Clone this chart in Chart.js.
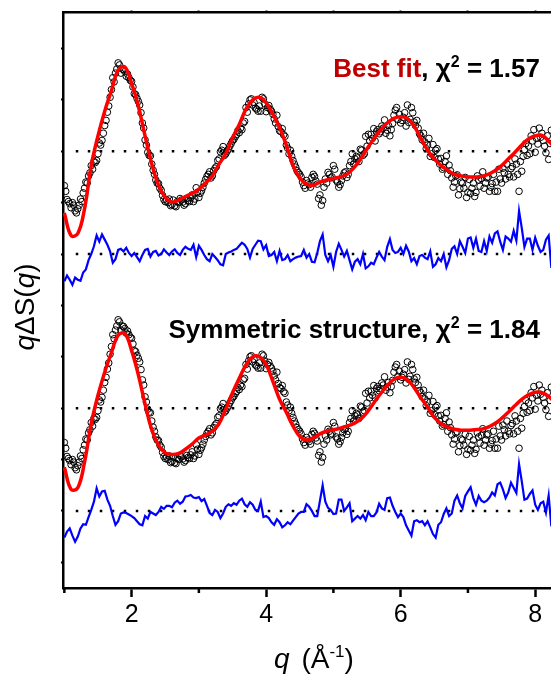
<!DOCTYPE html>
<html>
<head>
<meta charset="utf-8">
<script src="https://cdn.jsdelivr.net/npm/chart.js@4.4.1/dist/chart.umd.min.js"></script>
<style>
  html, body { margin: 0; padding: 0; background: #fff; overflow: hidden; }
  canvas { display: block; }
</style>
</head>
<body>
<canvas id="chart" width="551" height="675"></canvas>
<script>
// q grid of the measured curve (1/Angstrom)
const qData = [
  1.00,1.04,1.08,1.12,1.16,1.20,1.24,1.28,1.32,1.36,
  1.40,1.44,1.48,1.52,1.56,1.60,1.64,1.68,1.72,1.76,
  1.80,1.84,1.88,1.92,1.96,2.00,2.04,2.08,2.12,2.16,
  2.20,2.24,2.28,2.32,2.36,2.40,2.44,2.48,2.52,2.56,
  2.60,2.64,2.68,2.72,2.76,2.80,2.84,2.88,2.92,2.96,
  3.00,3.04,3.08,3.12,3.16,3.20,3.24,3.28,3.32,3.36,
  3.40,3.44,3.48,3.52,3.56,3.60,3.64,3.68,3.72,3.76,
  3.80,3.84,3.88,3.92,3.96,4.00,4.04,4.08,4.12,4.16,
  4.20,4.24,4.28,4.32,4.36,4.40,4.44,4.48,4.52,4.56,
  4.60,4.64,4.68,4.72,4.76,4.80,4.84,4.88,4.92,4.96,
  5.00,5.04,5.08,5.12,5.16,5.20,5.24,5.28,5.32,5.36,
  5.40,5.44,5.48,5.52,5.56,5.60,5.64,5.68,5.72,5.76,
  5.80,5.84,5.88,5.92,5.96,6.00,6.04,6.08,6.12,6.16,
  6.20,6.24,6.28,6.32,6.36,6.40,6.44,6.48,6.52,6.56,
  6.60,6.64,6.68,6.72,6.76,6.80,6.84,6.88,6.92,6.96,
  7.00,7.04,7.08,7.12,7.16,7.20,7.24,7.28,7.32,7.36,
  7.40,7.44,7.48,7.52,7.56,7.60,7.64,7.68,7.72,7.76,
  7.80,7.84,7.88,7.92,7.96,8.00,8.04,8.08,8.12,8.16,
  8.20,8.24
];

// measured q*dS(q), relative to its own baseline
const measured = [
  -0.67,-0.94,-1.02,-1.00,-1.16,-1.12,-0.93,-0.81,-0.60,-0.48,
  -0.28,-0.20,-0.18,0.16,0.21,0.50,0.76,1.05,1.43,1.52,
  1.72,1.52,1.59,1.46,1.43,1.36,1.12,1.03,0.90,0.55,
  0.22,-0.02,-0.09,-0.37,-0.56,-0.63,-0.76,-0.94,-0.95,-0.93,
  -1.04,-1.06,-0.98,-0.92,-0.99,-1.02,-0.96,-0.91,-0.98,-0.71,
  -0.90,-0.77,-0.62,-0.49,-0.40,-0.48,-0.33,-0.18,-0.01,0.09,
  -0.05,0.04,0.15,0.23,0.32,0.36,0.42,0.58,0.76,1.00,
  0.90,0.84,0.78,0.78,1.02,0.77,0.89,0.78,0.63,0.70,
  0.40,0.44,0.29,0.06,0.02,-0.18,-0.31,-0.42,-0.50,-0.67,
  -0.57,-0.65,-0.51,-0.49,-0.64,-0.85,-0.96,-0.54,-0.41,-0.52,
  -0.28,-0.56,-0.70,-0.57,-0.42,-0.51,-0.28,-0.05,-0.15,-0.13,
  0.04,-0.08,0.29,0.33,0.33,0.44,0.38,0.34,0.49,0.61,
  0.41,0.30,0.54,0.80,0.62,0.55,0.66,0.49,0.56,0.85,
  0.57,0.60,0.34,0.22,0.18,0.12,-0.10,0.13,0.02,-0.15,
  -0.14,-0.32,-0.09,-0.27,-0.52,-0.60,-0.46,-0.73,-0.62,-0.51,
  -0.80,-0.82,-0.62,-0.80,-0.56,-0.53,-0.72,-0.52,-0.78,-0.63,
  -0.78,-0.78,-0.54,-0.33,-0.54,-0.45,-0.34,-0.50,-0.25,-0.78,
  -0.39,0.03,-0.08,-0.05,0.20,-0.02,0.14,0.27,0.21,-0.03,
  -0.16,0.41
];

// the in-between measured points (q = 1.02 ... 8.22)
const qDataMid = [
  1.02,1.06,1.10,1.14,1.18,1.22,1.26,1.30,1.34,1.38,
  1.42,1.46,1.50,1.54,1.58,1.62,1.66,1.70,1.74,1.78,
  1.82,1.86,1.90,1.94,1.98,2.02,2.06,2.10,2.14,2.18,
  2.22,2.26,2.30,2.34,2.38,2.42,2.46,2.50,2.54,2.58,
  2.62,2.66,2.70,2.74,2.78,2.82,2.86,2.90,2.94,2.98,
  3.02,3.06,3.10,3.14,3.18,3.22,3.26,3.30,3.34,3.38,
  3.42,3.46,3.50,3.54,3.58,3.62,3.66,3.70,3.74,3.78,
  3.82,3.86,3.90,3.94,3.98,4.02,4.06,4.10,4.14,4.18,
  4.22,4.26,4.30,4.34,4.38,4.42,4.46,4.50,4.54,4.58,
  4.62,4.66,4.70,4.74,4.78,4.82,4.86,4.90,4.94,4.98,
  5.02,5.06,5.10,5.14,5.18,5.22,5.26,5.30,5.34,5.38,
  5.42,5.46,5.50,5.54,5.58,5.62,5.66,5.70,5.74,5.78,
  5.82,5.86,5.90,5.94,5.98,6.02,6.06,6.10,6.14,6.18,
  6.22,6.26,6.30,6.34,6.38,6.42,6.46,6.50,6.54,6.58,
  6.62,6.66,6.70,6.74,6.78,6.82,6.86,6.90,6.94,6.98,
  7.02,7.06,7.10,7.14,7.18,7.22,7.26,7.30,7.34,7.38,
  7.42,7.46,7.50,7.54,7.58,7.62,7.66,7.70,7.74,7.78,
  7.82,7.86,7.90,7.94,7.98,8.02,8.06,8.10,8.14,8.18,
  8.22
];

const measuredMid = [
  -0.78,-0.98,-1.10,-1.05,-1.20,-1.05,-0.98,-0.72,-0.62,-0.42,
  -0.35,-0.22,-0.05,0.12,0.35,0.60,0.88,1.20,1.35,1.60,
  1.68,1.60,1.55,1.50,1.38,1.25,1.10,0.97,0.75,0.45,
  0.12,-0.08,-0.25,-0.45,-0.62,-0.72,-0.86,-0.98,-1.00,-1.06,
  -0.95,-1.08,-1.00,-0.95,-1.05,-0.92,-0.98,-0.85,-0.93,-0.80,
  -0.82,-0.70,-0.55,-0.45,-0.52,-0.38,-0.30,-0.15,0.02,-0.08,
  0.00,0.10,0.20,0.28,0.40,0.45,0.55,0.85,0.92,1.02,
  0.95,0.82,0.88,1.05,0.92,0.85,0.82,0.72,0.55,0.48,
  0.38,0.32,0.12,-0.05,-0.10,-0.25,-0.38,-0.45,-0.60,-0.72,
  -0.62,-0.70,-0.45,-0.58,-0.92,-1.05,-0.70,-0.62,-0.45,-0.50,
  -0.35,-0.60,-0.65,-0.48,-0.40,-0.45,-0.20,-0.25,-0.10,-0.20,
  0.02,-0.05,0.10,0.20,0.25,0.20,0.42,0.38,0.45,0.35,
  0.50,0.42,0.70,0.85,0.72,0.60,0.75,0.90,0.62,0.75,
  0.50,0.45,0.30,0.35,0.05,0.25,-0.05,-0.12,0.05,-0.25,
  -0.35,-0.20,-0.45,-0.38,-0.70,-0.48,-0.85,-0.60,-0.72,-0.90,
  -0.55,-0.72,-0.88,-0.48,-0.68,-0.40,-0.62,-0.50,-0.70,-0.45,
  -0.60,-0.35,-0.62,-0.42,-0.25,-0.50,-0.30,-0.15,-0.45,-0.20,
  -0.10,0.15,0.10,0.30,0.42,0.25,0.45,0.35,0.10,0.30,
  0.15
];

// residuals (fit - data) for each model
const residualBest = [
  -0.53,-0.42,-0.50,-0.60,-0.46,-0.50,-0.52,-0.36,-0.30,-0.12,
  0.00,0.15,0.36,0.24,0.38,0.28,0.18,0.05,-0.17,-0.10,
  0.08,0.10,0.05,0.12,0.02,-0.04,0.02,-0.06,-0.14,-0.02,
  0.08,0.10,-0.05,0.04,0.06,-0.03,0.00,0.09,0.03,-0.02,
  0.05,0.09,0.02,-0.02,0.08,0.14,0.10,0.08,0.18,-0.06,
  0.16,0.08,-0.02,-0.10,-0.14,0.00,-0.06,-0.12,-0.20,-0.22,
  0.00,0.03,0.05,0.08,0.10,0.16,0.22,0.18,0.10,-0.07,
  0.10,0.18,0.26,0.25,0.09,0.17,-0.04,-0.02,0.04,-0.14,
  0.06,-0.12,-0.10,-0.02,-0.14,-0.10,-0.07,-0.05,-0.04,0.08,
  -0.07,0.00,-0.15,-0.16,0.02,0.25,0.38,-0.02,-0.14,-0.02,
  -0.25,0.04,0.20,0.08,-0.05,0.06,-0.12,-0.30,-0.15,-0.10,
  -0.20,0.00,-0.28,-0.24,-0.17,-0.20,-0.07,0.04,-0.05,-0.12,
  0.14,0.29,0.08,0.02,0.04,0.12,0.00,0.16,0.05,-0.14,
  -0.08,-0.20,-0.04,-0.02,-0.07,-0.10,0.05,-0.25,-0.20,-0.08,
  -0.14,0.00,-0.26,-0.12,0.10,0.15,0.00,0.25,0.14,0.02,
  0.30,0.32,0.12,0.30,0.06,0.04,0.25,0.06,0.34,0.22,
  0.40,0.44,0.24,0.08,0.34,0.30,0.24,0.45,0.26,0.84,
  0.51,0.14,0.30,0.30,0.08,0.32,0.16,0.04,0.08,0.28,
  0.36,-0.27
];

const residualSym = [
  -0.52,-0.40,-0.34,-0.48,-0.60,-0.50,-0.34,-0.26,-0.27,-0.12,
  0.02,0.18,0.44,0.28,0.38,0.39,0.22,0.10,-0.10,-0.27,
  -0.20,-0.05,-0.03,-0.04,-0.07,-0.10,-0.14,-0.20,-0.26,-0.28,
  -0.10,-0.15,-0.02,-0.05,-0.08,-0.02,0.08,0.04,0.10,0.10,
  0.07,0.16,0.20,0.14,0.18,0.28,0.29,0.31,0.26,0.25,
  0.27,0.19,0.23,0.10,-0.04,-0.08,0.02,-0.02,-0.14,-0.05,
  0.08,0.13,0.10,0.15,0.12,0.20,0.24,0.13,0.08,0.17,
  0.12,0.02,0.00,0.18,-0.12,-0.10,-0.14,-0.22,-0.27,-0.16,
  -0.22,-0.32,-0.28,-0.22,-0.26,-0.19,-0.12,-0.05,-0.02,-0.02,
  0.13,0.08,0.00,-0.10,-0.10,0.20,0.50,0.18,0.06,0.02,
  -0.06,-0.05,0.22,0.22,0.00,0.07,0.15,-0.20,-0.15,-0.10,
  -0.15,-0.08,-0.18,-0.02,-0.10,-0.10,-0.03,0.14,0.05,0.02,
  0.25,0.26,0.10,-0.02,-0.12,-0.05,-0.12,-0.28,-0.38,-0.48,
  -0.20,-0.18,-0.22,-0.20,-0.28,-0.20,-0.32,-0.45,-0.52,-0.27,
  -0.22,-0.06,0.05,-0.10,-0.05,0.20,0.30,0.15,0.05,0.29,
  0.38,0.46,0.25,0.12,0.29,0.20,0.17,0.20,0.26,0.36,
  0.30,0.52,0.55,0.42,0.25,0.36,0.55,0.45,0.35,0.91,
  0.58,0.22,0.24,0.33,0.40,0.12,0.02,0.15,0.18,-0.03,
  0.30,-0.30
];

// fitted curves on a coarser q grid
const qFit = [
  1.0,1.1,1.2,1.3,1.4,1.5,1.6,1.7,1.8,1.9,
  2.0,2.1,2.2,2.3,2.4,2.5,2.6,2.7,2.8,2.9,
  3.0,3.1,3.2,3.3,3.4,3.5,3.6,3.7,3.8,3.9,
  4.0,4.1,4.2,4.3,4.4,4.5,4.6,4.7,4.8,4.9,
  5.0,5.1,5.2,5.3,5.4,5.5,5.6,5.7,5.8,5.9,
  6.0,6.1,6.2,6.3,6.4,6.5,6.6,6.7,6.8,6.9,
  7.0,7.1,7.2,7.3,7.4,7.5,7.6,7.7,7.8,7.9,
  8.0,8.1,8.2,8.3
];

const fitBest = [
  -1.20,-1.64,-1.60,-1.12,-0.28,0.30,0.78,1.18,1.58,1.64,
  1.32,0.88,0.30,-0.25,-0.66,-0.90,-0.99,-0.95,-0.88,-0.82,
  -0.74,-0.62,-0.48,-0.25,-0.05,0.26,0.52,0.82,1.00,1.05,
  0.94,0.72,0.46,0.12,-0.28,-0.52,-0.64,-0.66,-0.60,-0.56,
  -0.53,-0.50,-0.45,-0.33,-0.16,0.05,0.24,0.41,0.55,0.64,
  0.67,0.64,0.49,0.25,0.02,-0.15,-0.28,-0.37,-0.45,-0.48,
  -0.50,-0.50,-0.49,-0.45,-0.38,-0.28,-0.15,-0.02,0.12,0.24,
  0.30,0.31,0.20,0.05
];

const fitSym = [
  -1.15,-1.58,-1.55,-1.05,-0.30,0.25,0.70,1.08,1.42,1.45,
  1.12,0.65,0.08,-0.42,-0.72,-0.87,-0.90,-0.88,-0.80,-0.70,
  -0.58,-0.52,-0.45,-0.30,-0.02,0.30,0.58,0.84,1.00,1.00,
  0.85,0.52,0.17,-0.08,-0.35,-0.55,-0.62,-0.58,-0.50,-0.45,
  -0.42,-0.39,-0.35,-0.30,-0.22,-0.08,0.10,0.28,0.44,0.56,
  0.60,0.55,0.40,0.20,0.02,-0.18,-0.30,-0.37,-0.41,-0.43,
  -0.43,-0.42,-0.41,-0.37,-0.30,-0.20,-0.08,0.05,0.17,0.26,
  0.31,0.30,0.23,0.10
];

// baselines of the stacked curves (fit / residual, for each model)
const baseBest = 8, baseBestRes = 6;
const baseSym = 3, baseSymRes = 1;
const dottedFrom = 1.17;

const xMajorTicks = [2, 4, 6, 8];
const xMinorTicks = [1, 3, 5, 7];
const xTopTicks = [2, 3, 4, 5, 6, 7, 8];
const yTicks = [0, 1, 2, 3, 4, 5, 6, 7, 8, 9, 10];

const FONT = "'Liberation Sans', Arial, Helvetica, sans-serif";
const X_MIN = 0.98, X_MAX = 8.235;

function pts(xs, ys, off) {
  return xs.map((x, i) => ({ x: x, y: ys[i] + off }));
}
function flat(y) {
  return [{ x: dottedFrom, y: y }, { x: X_MAX + 0.1, y: y }];
}

// draw a run of text pieces with their own fonts
function drawRich(ctx, parts, x, y, align) {
  let total = 0;
  parts.forEach(p => { ctx.font = p.font; p.w = ctx.measureText(p.text).width + (p.gap || 0); total += p.w; });
  let cx = align === 'right' ? x - total : (align === 'center' ? x - total / 2 : x);
  ctx.textBaseline = 'alphabetic';
  ctx.textAlign = 'left';
  parts.forEach(p => {
    ctx.font = p.font;
    ctx.fillStyle = p.color || '#000';
    ctx.fillText(p.text, cx, y - (p.dy || 0));
    cx += p.w;
  });
}

const decor = {
  id: 'decor',
  afterDraw(chart) {
    const ctx = chart.ctx;
    const xs = chart.scales.x, ys = chart.scales.y;
    const area = chart.chartArea;
    ctx.save();
    // minor ticks on the bottom axis
    ctx.strokeStyle = '#000';
    ctx.lineWidth = 2.5;
    xMinorTicks.forEach(v => {
      const px = xs.getPixelForValue(v);
      ctx.beginPath();
      ctx.moveTo(px, area.bottom);
      ctx.lineTo(px, area.bottom + 5);
      ctx.stroke();
    });

    const b = 'bold 26px ' + FONT, bs = 'bold 16px ' + FONT;
    drawRich(ctx, [
      { text: 'Best fit', font: b, color: '#c00000' },
      { text: ', \u03c7', font: b },
      { text: '2', font: bs, dy: 10 },
      { text: ' = 1.57', font: b }
    ], xs.getPixelForValue(8.07), ys.getPixelForValue(9.45), 'right');
    drawRich(ctx, [
      { text: 'Symmetric structure, \u03c7', font: b },
      { text: '2', font: bs, dy: 10 },
      { text: ' = 1.84', font: b }
    ], xs.getPixelForValue(8.07), ys.getPixelForValue(4.37), 'right');

    // axis titles
    const n = '28px ' + FONT, it = 'italic 28px ' + FONT, sup = '17px ' + FONT;
    drawRich(ctx, [
      { text: 'q', font: it, gap: 4 },
      { text: ' (\u00c5', font: n },
      { text: '-1', font: sup, dy: 11 },
      { text: ')', font: n }
    ], 314, 668, 'center');

    ctx.translate(34, 307);
    ctx.rotate(-Math.PI / 2);
    drawRich(ctx, [
      { text: 'q', font: 'italic 28px ' + FONT },
      { text: '\u0394S(', font: '28px ' + FONT },
      { text: 'q', font: 'italic 28px ' + FONT },
      { text: ')', font: '28px ' + FONT }
    ], 0, 0, 'center');
    ctx.restore();
  }
};

const dotted = { borderColor: '#000', borderWidth: 2.5, borderDash: [2.5, 9.5], pointRadius: 0, showLine: true, order: 5 };
const circles = { pointRadius: 3.3, pointBorderWidth: 1, pointBorderColor: '#000', pointBackgroundColor: 'rgba(255,255,255,0)', showLine: false, order: 3 };
const redFit = { borderColor: '#ff0000', borderWidth: 3.5, pointRadius: 0, showLine: true, tension: 0.4, order: 1 };
const blueRes = { borderColor: '#0000ff', borderWidth: 2.2, pointRadius: 0, showLine: true, tension: 0, order: 2 };

function noPad(s) { s.paddingLeft = 0; s.paddingRight = 0; }

new Chart(document.getElementById('chart'), {
  type: 'scatter',
  data: {
    datasets: [
      Object.assign({ data: flat(baseBest) }, dotted),
      Object.assign({ data: flat(baseBestRes) }, dotted),
      Object.assign({ data: flat(baseSym) }, dotted),
      Object.assign({ data: flat(baseSymRes) }, dotted),
      Object.assign({ data: pts(qData, measured, baseBest) }, circles),
      Object.assign({ data: pts(qDataMid, measuredMid, baseBest) }, circles),
      Object.assign({ data: pts(qData, measured, baseSym) }, circles),
      Object.assign({ data: pts(qDataMid, measuredMid, baseSym) }, circles),
      Object.assign({ data: pts(qData, residualBest, baseBestRes) }, blueRes),
      Object.assign({ data: pts(qData, residualSym, baseSymRes) }, blueRes),
      Object.assign({ data: pts(qFit, fitBest, baseBest) }, redFit),
      Object.assign({ data: pts(qFit, fitSym, baseSym) }, redFit)
    ]
  },
  options: {
    responsive: false,
    animation: false,
    devicePixelRatio: 1,
    layout: { autoPadding: false, padding: 0 },
    plugins: { legend: { display: false }, tooltip: { enabled: false } },
    scales: {
      x: {
        type: 'linear', position: 'bottom', min: X_MIN, max: X_MAX,
        afterBuildTicks: s => { s.ticks = xMajorTicks.map(v => ({ value: v })); },
        afterFit: s => { s.height = 87; noPad(s); },
        ticks: { color: '#000', font: { family: FONT, size: 25 }, padding: 3, maxRotation: 0, autoSkip: false },
        grid: { drawOnChartArea: false, tickLength: 9, tickWidth: 2.5, tickColor: '#000' },
        border: { color: '#000', width: 2.5 }
      },
      xTop: {
        type: 'linear', position: 'top', min: X_MIN, max: X_MAX,
        afterBuildTicks: s => { s.ticks = xTopTicks.map(v => ({ value: v })); },
        afterFit: s => { s.height = 12.5; noPad(s); },
        ticks: { display: false },
        grid: { drawOnChartArea: false, tickLength: 2, tickWidth: 2, tickColor: '#000' },
        border: { color: '#000', width: 2.5 }
      },
      y: {
        type: 'linear', position: 'left', min: -0.5, max: 10.7,
        afterBuildTicks: s => { s.ticks = yTicks.map(v => ({ value: v })); },
        afterFit: s => { s.width = 63; },
        ticks: { display: false },
        grid: { drawOnChartArea: false, tickLength: 2, tickWidth: 2, tickColor: '#000' },
        border: { color: '#000', width: 2.5 }
      }
    }
  },
  plugins: [decor]
});
</script>
</body>
</html>
